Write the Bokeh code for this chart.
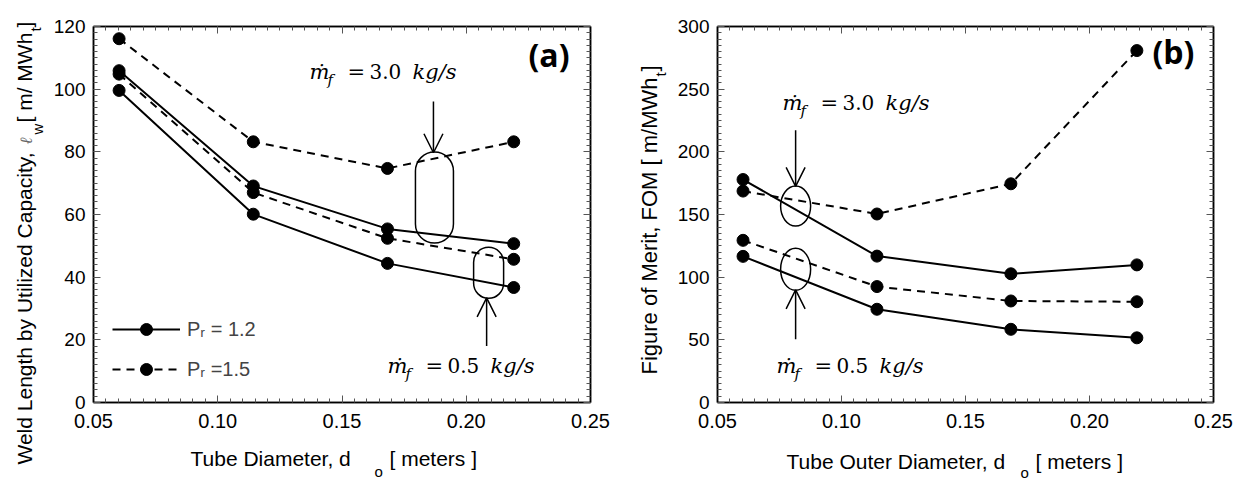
from bokeh.plotting import figure
from bokeh.layouts import row, column
from bokeh.models import (Range1d, FixedTicker, LinearAxis, Label, Arrow, OpenHead, GridBox,
                          PrintfTickFormatter, CustomJSTickFormatter, Legend, LegendItem)
from bokeh.embed import file_html
from bokeh.resources import INLINE

# ---------------- data ----------------
tube_diameter = [0.0603, 0.1143, 0.1683, 0.2191]

# (a) weld length by utilized capacity [m/MWh_t]
a_pr12_mf30 = [105.9, 69.1, 55.4, 50.7]
a_pr12_mf05 = [99.6, 60.1, 44.4, 36.7]
a_pr15_mf30 = [116.1, 83.2, 74.7, 83.2]
a_pr15_mf05 = [104.8, 67.0, 52.4, 45.7]

# (b) figure of merit [m/MWh_t]
b_pr12_mf30 = [177.9, 116.8, 102.7, 109.8]
b_pr12_mf05 = [116.6, 74.4, 58.4, 51.6]
b_pr15_mf30 = [168.7, 150.4, 174.5, 280.8]
b_pr15_mf05 = [129.4, 92.5, 81.0, 80.4]

x_ticks = [0.05, 0.10, 0.15, 0.20, 0.25]
a_y_ticks = [0, 20, 40, 60, 80, 100, 120]
b_y_ticks = [0, 50, 100, 150, 200, 250, 300]
legend_labels = ["P\u1d63 = 1.2", "P\u1d63 =1.5"]

# annotation anchors (data coordinates)
a_arrow_30 = dict(x=0.1868, y0=96.1, y1=79.7)
a_arrow_05 = dict(x=0.2082, y0=18.0, y1=33.4)
a_capsule_30 = dict(x=0.1872, y=65.4)
a_capsule_05 = dict(x=0.2090, y=41.4)
b_arrow_30 = dict(x=0.0815, y0=217.3, y1=172.4)
b_arrow_05 = dict(x=0.0815, y0=50.4, y1=89.8)
b_ellipses = dict(x=[0.0815, 0.0815], y=[156.7, 106.3])

SANS = "Liberation Sans"
SERIF = "DejaVu Serif"


def style_axis(ax, ticker, fmt, size, standoff):
    ax.ticker = ticker
    ax.formatter = fmt
    ax.axis_line_color = "black"
    ax.axis_line_width = 1.5
    ax.major_tick_in = 7
    ax.major_tick_out = 0
    ax.minor_tick_in = 4
    ax.minor_tick_out = 0
    ax.major_tick_line_color = "#555555"
    ax.minor_tick_line_color = "#555555"
    ax.major_tick_line_width = 1
    ax.minor_tick_line_width = 1
    ax.major_label_text_font = SANS
    ax.major_label_text_font_size = size
    ax.major_label_text_color = "black"
    ax.major_label_standoff = standoff


def make_fig(width, yr, yticks, yminor, left, right, top, bottom):
    p = figure(width=width, height=480, x_range=Range1d(0.05, 0.25), y_range=Range1d(*yr),
               output_backend="svg", toolbar_location=None,
               min_border_left=left, min_border_right=right,
               min_border_top=top, min_border_bottom=bottom)
    p.xgrid.visible = False
    p.ygrid.visible = False
    p.outline_line_color = "black"
    p.outline_line_width = 1.5
    xminor = [0.05 + i * 0.005 for i in range(41)]
    xt = FixedTicker(ticks=x_ticks, minor_ticks=xminor)
    yt = FixedTicker(ticks=yticks, minor_ticks=yminor)
    style_axis(p.xaxis[0], xt, PrintfTickFormatter(format="%.2f"), "20px", 11)
    style_axis(p.yaxis[0], yt, PrintfTickFormatter(format="%d"), "19px", 8)
    blank = CustomJSTickFormatter(code="return ''")
    top_ax = LinearAxis()
    style_axis(top_ax, FixedTicker(ticks=x_ticks, minor_ticks=xminor), blank, "1px", 0)
    right_ax = LinearAxis()
    style_axis(right_ax, FixedTicker(ticks=yticks, minor_ticks=yminor), blank, "1px", 0)
    p.add_layout(top_ax, "above")
    p.add_layout(right_ax, "right")
    return p


def series(p, ys, dash):
    r1 = p.line(tube_diameter, ys, line_color="black", line_width=2, line_dash=dash)
    r2 = p.scatter(tube_diameter, ys, size=12, color="black")
    return [r1, r2]


# ---------------- panel (a) ----------------
pa = make_fig(620, (0, 120), a_y_ticks, list(range(0, 121, 2)), 93, 30, 21, 78)
s1 = series(pa, a_pr12_mf30, "solid")
series(pa, a_pr12_mf05, "solid")
s2 = series(pa, a_pr15_mf30, "8 6")
series(pa, a_pr15_mf05, "8 6")

leg = Legend(items=[LegendItem(label=legend_labels[0], renderers=s1),
                    LegendItem(label=legend_labels[1], renderers=s2)],
             location=(19, 18), glyph_width=68, glyph_height=30, label_standoff=7,
             spacing=10, padding=0, margin=0, border_line_color=None,
             background_fill_alpha=0, label_text_font=SANS, label_text_font_size="20px",
             label_height=30)
pa.add_layout(leg)

pa.rect(x=[a_capsule_30["x"]], y=[a_capsule_30["y"]], width=38, height=91,
        width_units="screen", height_units="screen", fill_color=None,
        line_color="black", line_width=1.5, border_radius=19)
pa.rect(x=[a_capsule_05["x"]], y=[a_capsule_05["y"]], width=30, height=51,
        width_units="screen", height_units="screen", fill_color=None,
        line_color="black", line_width=1.5, border_radius=15)
for a in (a_arrow_30, a_arrow_05):
    pa.add_layout(Arrow(end=OpenHead(size=19, line_width=1.5, line_color="black"),
                        x_start=a["x"], y_start=a["y0"], x_end=a["x"], y_end=a["y1"],
                        line_width=1.5, line_color="black"))

# ---------------- panel (b) ----------------
pb = make_fig(627, (0, 300), b_y_ticks, list(range(0, 301, 5)), 97, 34, 26, 73)
series(pb, b_pr12_mf30, "solid")
series(pb, b_pr12_mf05, "solid")
series(pb, b_pr15_mf30, "8 6")
series(pb, b_pr15_mf05, "8 6")

pb.ellipse(x=b_ellipses["x"], y=b_ellipses["y"], width=30, height=[40, 42],
           width_units="screen", height_units="screen", fill_color=None,
           line_color="black", line_width=1.5)
for a in (b_arrow_30, b_arrow_05):
    pb.add_layout(Arrow(end=OpenHead(size=19, line_width=1.5, line_color="black"),
                        x_start=a["x"], y_start=a["y0"], x_end=a["x"], y_end=a["y1"],
                        line_width=1.5, line_color="black"))

# ---------------- text overlay (page pixel coordinates) ----------------
ov = figure(width=1247, height=480, x_range=Range1d(0, 1247), y_range=Range1d(480, 0),
            x_axis_type=None, y_axis_type=None, output_backend="svg", toolbar_location=None,
            min_border=0, background_fill_color=None, border_fill_color=None,
            outline_line_color=None)
ov.xgrid.visible = False
ov.ygrid.visible = False


def lab(text, cx, cy, size, font=SANS, style="normal", angle=0, color="black"):
    shift = 0.38 * size          # baseline correction (pixels)
    if angle == 0:
        cy -= shift
    else:
        cx -= shift
    ov.add_layout(Label(x=cx, y=cy, text=text, text_font=font, text_font_size=f"{size}px",
                        text_font_style=style, text_color=color, angle=angle,
                        angle_units="deg", text_align="left", text_baseline="alphabetic"))


def mdot(cx, cy, number):
    lab("\u1e41", cx, cy, 21, SERIF, "italic")
    lab("f", cx + 18, cy + 6, 15, SERIF, "italic")
    lab("=", cx + 38, cy, 21, SERIF)
    lab(number, cx + 60, cy, 20, SERIF)
    lab("kg/s", cx + 103, cy, 21, SERIF, "italic")


mdot(309, 79, "3.0")
mdot(387, 373, "0.5")
lab("(a)", 528, 66, 32, "Open Sans", "bold")
lab("Tube Diameter, d", 190, 466, 21)
lab("o", 374, 477, 15)
lab("[ meters ]", 389, 466, 21)
lab("Weld Length by Utilized Capacity, ", 32, 464, 21, angle=90)
lab("\u2113", 32, 144, 17, SERIF, "italic", angle=90, color="#666666")
lab("w", 43, 134, 15, angle=90)
lab("[ m/ MWh", 32, 122, 21, angle=90)
lab("t", 41, 31, 15, angle=90)
lab(" ]", 32, 27, 21, angle=90)

mdot(782, 110, "3.0")
mdot(776, 373, "0.5")
lab("(b)", 1152, 63, 32, "Open Sans", "bold")
lab("Tube Outer Diameter, d", 786, 469, 21)
lab("o", 1020, 478, 15)
lab("[ meters ]", 1035, 469, 21)
lab("Figure of Merit, FOM [ m/MWh", 657, 374, 22, angle=90)
lab("t", 666, 76, 15, angle=90)
lab(" ]", 657, 71, 22, angle=90)

layout = GridBox(children=[(row(pa, pb), 0, 0), (column(ov), 0, 0)], spacing=0)
open("out.html", "w").write(file_html(layout, INLINE))
